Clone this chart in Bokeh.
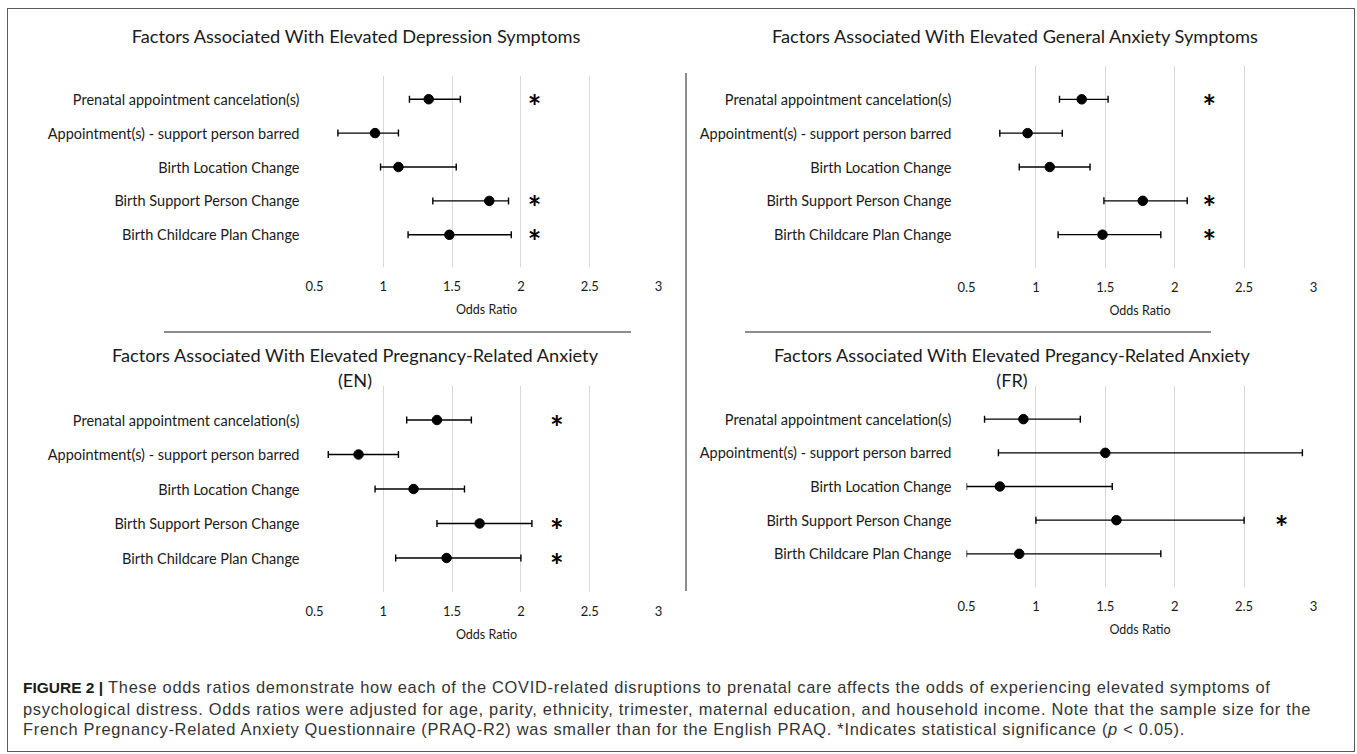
from bokeh.plotting import figure
from bokeh.models import ColumnDataSource, Range1d, FixedTicker, Whisker, TeeHead, Div
from bokeh.layouts import column, row
from bokeh.embed import file_html
from bokeh.resources import INLINE
from bokeh.core.properties import value

# ---------------- data ----------------
categories = [
    "Prenatal appointment cancelation(s)",
    "Appointment(s) - support person barred",
    "Birth Location Change",
    "Birth Support Person Change",
    "Birth Childcare Plan Change",
]
x_ticks = [0.5, 1, 1.5, 2, 2.5, 3]
x_tick_labels = ["0.5", "1", "1.5", "2", "2.5", "3"]
x_axis_label = "Odds Ratio"

dep_title = ["Factors Associated With Elevated Depression Symptoms"]
dep_or = [1.33, 0.94, 1.11, 1.77, 1.48]
dep_lo = [1.19, 0.67, 0.98, 1.36, 1.18]
dep_hi = [1.56, 1.11, 1.53, 1.91, 1.93]
dep_sig = [True, False, False, True, True]

gad_title = ["Factors Associated With Elevated General Anxiety Symptoms"]
gad_or = [1.33, 0.94, 1.10, 1.77, 1.48]
gad_lo = [1.17, 0.74, 0.88, 1.49, 1.16]
gad_hi = [1.52, 1.19, 1.39, 2.09, 1.90]
gad_sig = [True, False, False, True, True]

en_title = ["Factors Associated With Elevated Pregnancy-Related Anxiety", "(EN)"]
en_or = [1.39, 0.82, 1.22, 1.70, 1.46]
en_lo = [1.17, 0.60, 0.94, 1.39, 1.09]
en_hi = [1.64, 1.11, 1.59, 2.08, 2.00]
en_sig = [True, False, False, True, True]

fr_title = ["Factors Associated With Elevated Pregancy-Related Anxiety", "(FR)"]
fr_or = [0.91, 1.50, 0.74, 1.58, 0.88]
fr_lo = [0.63, 0.73, 0.50, 1.00, 0.50]
fr_hi = [1.32, 2.92, 1.55, 2.50, 1.90]
fr_sig = [False, False, False, True, False]

caption_label = "FIGURE 2 |"
caption_lines = [
    "These odds ratios demonstrate how each of the COVID-related disruptions to prenatal care affects the odds of experiencing elevated symptoms of",
    "psychological distress. Odds ratios were adjusted for age, parity, ethnicity, trimester, maternal education, and household income. Note that the sample size for the",
    "French Pregnancy-Related Anxiety Questionnaire (PRAQ-R2) was smaller than for the English PRAQ. *Indicates statistical significance (<i>p</i> &lt; 0.05).",
]

# ---------------- style ----------------
FONT = "Lato"
TXT = "#1a1a1a"
GRID = "#d9d9d9"
DIV_COL = "#8c8c8c"


def make_panel(or_, lo, hi, sig, width, height, mb, y_rng, star_x):
    n = len(categories)
    ypos = [n - i for i in range(n)]
    src = ColumnDataSource(dict(y=ypos, orv=or_, lo=lo, hi=hi))
    p = figure(width=width, height=height, x_range=Range1d(0.5, 3),
               y_range=Range1d(*y_rng), output_backend="svg", toolbar_location=None,
               min_border_left=mb[0], min_border_right=mb[1],
               min_border_top=mb[2], min_border_bottom=mb[3])
    p.border_fill_color = None
    p.background_fill_color = None
    p.outline_line_color = None

    w = Whisker(source=src, base="y", lower="lo", upper="hi", dimension="width",
                line_color="black", line_width=1.4,
                lower_head=TeeHead(size=7, line_color="black", line_width=1.4),
                upper_head=TeeHead(size=7, line_color="black", line_width=1.4))
    p.add_layout(w)
    p.scatter(x="orv", y="y", source=src, size=9.5, fill_color="black", line_color="black")

    sy = [y for y, s in zip(ypos, sig) if s]
    p.text(x=[star_x] * len(sy), y=sy, text=["*"] * len(sy), text_font=value(FONT),
           text_font_size="32px", text_font_style="bold", text_align="center",
           text_baseline="middle", y_offset=7, text_color="black")

    xa = p.xaxis[0]
    xa.ticker = FixedTicker(ticks=x_ticks)
    xa.major_label_overrides = {t: l for t, l in zip(x_ticks, x_tick_labels)}
    xa.axis_label = x_axis_label
    xa.axis_label_text_font = FONT
    xa.axis_label_text_font_size = "12.5px"
    xa.axis_label_text_font_style = "normal"
    xa.axis_label_text_color = TXT
    xa.axis_label_standoff = 8
    xa.major_label_text_font = FONT
    xa.major_label_text_font_size = "13px"
    xa.major_label_text_color = TXT
    xa.major_label_standoff = 13
    xa.axis_line_color = None
    xa.major_tick_line_color = None
    xa.minor_tick_line_color = None
    xa.major_tick_in = 0
    xa.major_tick_out = 0

    ya = p.yaxis[0]
    ya.ticker = FixedTicker(ticks=ypos)
    ya.major_label_overrides = {y: c for y, c in zip(ypos, categories)}
    ya.major_label_text_font = FONT
    ya.major_label_text_font_size = "14.5px"
    ya.major_label_text_color = TXT
    ya.major_label_standoff = 15
    ya.axis_line_color = None
    ya.major_tick_line_color = None
    ya.minor_tick_line_color = None
    ya.major_tick_in = 0
    ya.major_tick_out = 0

    p.xgrid.grid_line_color = GRID
    p.xgrid.grid_line_width = 1
    p.ygrid.grid_line_color = None
    return p


def title_div(lines, width, height, pad_top, left, lh):
    html = ("<div style=\"margin-left:%dpx;width:600px;text-align:center;font-family:'Lato';"
            "font-size:18.2px;line-height:%dpx;color:%s;padding-top:%dpx;white-space:nowrap;\">%s</div>"
            % (left, lh, TXT, pad_top, "<br>".join(lines)))
    return Div(text=html, width=width, height=height, margin=0)


LW, RW = 677, 667

t1 = title_div(dep_title, LW, 40, 16, 48, 22)
p1 = make_panel(dep_or, dep_lo, dep_hi, dep_sig, LW, 276, (306, 27, 26, 58), (0.035, 5.70), 2.1)
t2 = title_div(gad_title, RW, 40, 16, 28, 22)
p2 = make_panel(gad_or, gad_lo, gad_hi, gad_sig, RW, 276, (279, 37, 16, 57), (0.0, 6.0), 2.25)

hl = Div(text="", width=467, height=2, margin=(6, 0, 0, 156), styles={"background-color": DIV_COL})
hr = Div(text="", width=466, height=2, margin=(6, 0, 0, 58), styles={"background-color": DIV_COL})

t3 = title_div(en_title, LW, 50, 10, 47, 25)
p3 = make_panel(en_or, en_lo, en_hi, en_sig, LW, 264, (302, 27, 2, 55), (0.0, 6.0), 2.26)
t4 = title_div(fr_title, RW, 50, 10, 25, 25)
p4 = make_panel(fr_or, fr_lo, fr_hi, fr_sig, RW, 264, (279, 41, 2, 60), (0.0, 6.0), 2.77)

vdiv = Div(text="", width=2, height=518, margin=(64, 0, 0, 0), styles={"background-color": DIV_COL})

left = column(t1, p1, hl, t3, p3, spacing=0)
right = column(t2, p2, hr, t4, p4, spacing=0)
top = row(left, vdiv, right, spacing=0)

cap_html = ("<div style=\"font-family:'Liberation Sans',Arial,sans-serif;font-size:16.4px;line-height:20.5px;"
            "letter-spacing:0.72px;color:#333333;white-space:nowrap;padding:30px 0 0 15px;\">"
            "<b style=\"color:#1a1a1a;font-size:15.5px;letter-spacing:0px;\">%s</b> %s</div>"
            % (caption_label, "<br>".join(caption_lines)))
cap = Div(text=cap_html, width=LW + 2 + RW, height=104, margin=0)

layout = column(top, cap, spacing=0, margin=(8, 0, 0, 7),
                styles={"border": "1px solid #5a5a5a"})

open("out.html", "w").write(file_html(layout, INLINE))
